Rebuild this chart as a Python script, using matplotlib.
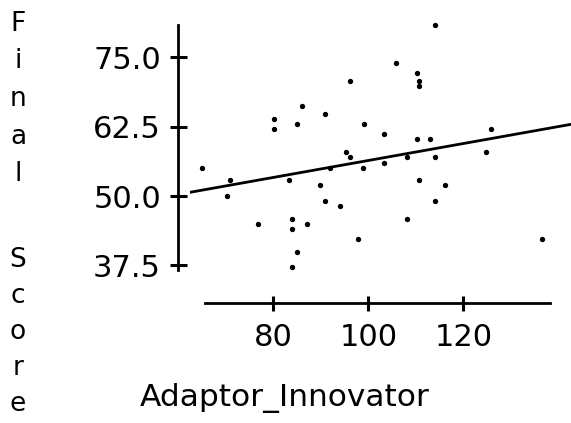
import numpy as np
import matplotlib
matplotlib.use('Agg')
import matplotlib.pyplot as plt

# Data
adaptor_innovator = [96.2, 86.0, 80.1, 80.1, 84.9, 90.8, 99.0, 95.2, 96.2, 114.0,
                     105.9, 110.3, 110.7, 110.7, 103.2, 110.3, 112.9, 125.9, 108.1, 114.0,
                     124.8, 64.9, 70.9, 70.3, 83.3, 91.9, 98.9, 89.8, 90.8, 94.0,
                     76.8, 83.9, 83.9, 87.0, 97.8, 84.9, 83.9, 103.2, 110.7, 116.2,
                     114.0, 108.1, 136.6]
final_score = [70.8, 66.2, 63.9, 62.0, 62.9, 64.8, 62.9, 57.9, 57.0, 80.9,
               74.0, 72.2, 70.8, 69.8, 61.1, 60.2, 60.2, 62.0, 57.0, 57.0,
               57.9, 55.1, 52.8, 50.0, 52.8, 55.1, 55.1, 51.9, 49.1, 48.2,
               45.0, 45.9, 44.0, 45.0, 42.2, 39.9, 37.2, 56.0, 52.8, 51.9,
               49.1, 45.9, 42.2]

# fitted line as shown in the picture
trend_slope = 0.1527
trend_intercept = 41.13

y_ticks = [37.5, 50.0, 62.5, 75.0]
x_ticks = [80, 100, 120]

fsize = 22

fig = plt.figure(figsize = (5.71, 4.23), dpi = 100)
ax = fig.add_axes([190/571, 119.7/423, 381/571, 278.3/423])

ax.scatter(adaptor_innovator, final_score, s = 8, color = 'black', clip_on = False, zorder = 3)

ax.set_xlim(62.46, 142.67)
ax.set_ylim(30.67, 80.81)
xs = np.array(ax.get_xlim())
ax.plot(xs, trend_slope * xs + trend_intercept, color = 'black', linewidth = 2)

for side in ['top', 'right']:
    ax.spines[side].set_visible(False)
ax.spines['left'].set_position(('outward', 8.4))
ax.spines['left'].set_bounds(36.67, 80.81)
ax.spines['bottom'].set_bounds(65.6, 138.2)
ax.spines['left'].set_linewidth(2)
ax.spines['bottom'].set_linewidth(2)

ax.set_yticks(y_ticks)
ax.set_yticklabels([f'{t:.1f}' for t in y_ticks])
ax.set_xticks(x_ticks)
ax.tick_params(axis = 'y', length = 0, labelsize = fsize, pad = 12.5)
ax.tick_params(axis = 'x', length = 0, labelsize = fsize, pad = 14)

# tick marks crossing the spines
ax.hlines(y_ticks, -0.052, -0.008, transform = ax.get_yaxis_transform(),
          color = 'black', linewidth = 2.2, clip_on = False, zorder = 4)
ax.vlines(x_ticks, -0.028, 0.028, transform = ax.get_xaxis_transform(),
          color = 'black', linewidth = 2.2, clip_on = False, zorder = 4)

fig.text(285/571, 1 - 398/423, 'Adaptor_Innovator', fontsize = 22.5, ha = 'center', va = 'center')

fig.text(18/571, 1 - 99/423, '\n'.join(list('Final')), fontsize = 19,
         ha = 'center', va = 'center', linespacing = 1.58)
fig.text(18/571, 1 - 332/423, '\n'.join(list('Score')), fontsize = 19,
         ha = 'center', va = 'center', linespacing = 1.5)

fig.savefig('out.png', dpi = 100)
